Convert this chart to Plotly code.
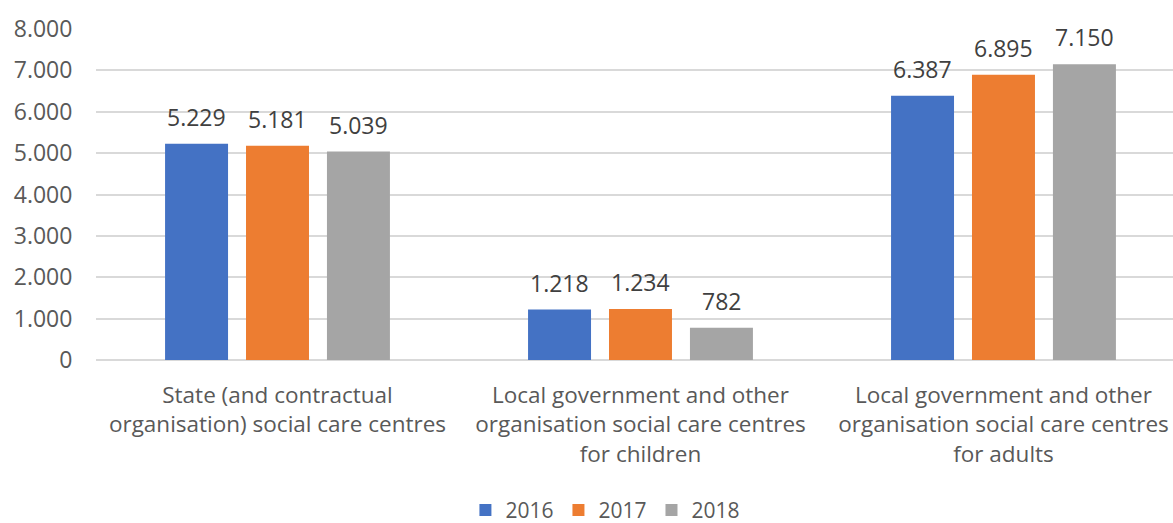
import plotly.graph_objects as go

categories = [
    "State (and contractual<br>organisation) social care centres",
    "Local government and other<br>organisation social care centres<br>for children",
    "Local government and other<br>organisation social care centres<br>for adults",
]
years = ["2016", "2017", "2018"]
values_2016 = [5229, 1218, 6387]
values_2017 = [5181, 1234, 6895]
values_2018 = [5039, 782, 7150]
colors = ["#4472C4", "#ED7D31", "#A5A5A5"]

series = [values_2016, values_2017, values_2018]
FONT = "Open Sans"
TXT = "#595959"

BAND_PX = 363
BARGAP = 0.331
SLOT_PX = BAND_PX * (1 - BARGAP) / 3

fig = go.Figure()
for i, (name, vals, col) in enumerate(zip(years, series, colors)):
    fig.add_trace(go.Bar(
        name=name, x=categories, y=vals, marker_color=col,
        marker_line_width=0,
    ))
    for c, v in zip(categories, vals):
        fig.add_annotation(
            x=c, y=v, text=f"{v:,}".replace(",", "."), showarrow=False,
            xanchor="center", yanchor="bottom", yshift=9,
            xshift=(i - 1) * SLOT_PX,
            font=dict(family=FONT, size=23, color="#404040"),
        )

fig.update_layout(
    width=1173, height=523,
    margin=dict(l=96, r=0, t=29, b=163),
    paper_bgcolor="white", plot_bgcolor="white",
    barmode="group", bargap=BARGAP, bargroupgap=0.222,
    separators=",.",
    font=dict(family=FONT, size=22, color=TXT),
    legend=dict(orientation="h", x=0.473, xanchor="center",
                yref="container", y=0.024, yanchor="middle",
                font=dict(family=FONT, size=21, color=TXT), itemwidth=30),
    showlegend=True,
)
fig.update_xaxes(range=[-0.5, 2.467], showgrid=False, showline=False,
                 ticks="outside", ticklen=15, tickcolor="rgba(0,0,0,0)",
                 automargin=False,
                 tickfont=dict(family=FONT, size=22.5, color=TXT))
fig.update_yaxes(range=[0, 8000], dtick=1000, tickformat=",", showgrid=True,
                 gridcolor="#D9D9D9", gridwidth=2, zeroline=True,
                 zerolinecolor="#D9D9D9", zerolinewidth=2, showline=False,
                 ticks="outside", ticklen=18, tickcolor="rgba(0,0,0,0)",
                 automargin=False,
                 tickfont=dict(family=FONT, size=23, color=TXT))

fig.write_html(
    "out.html",
    config={"displayModeBar": False},
    post_script="document.body.style.margin='0';document.body.style.overflow='hidden';",
)
